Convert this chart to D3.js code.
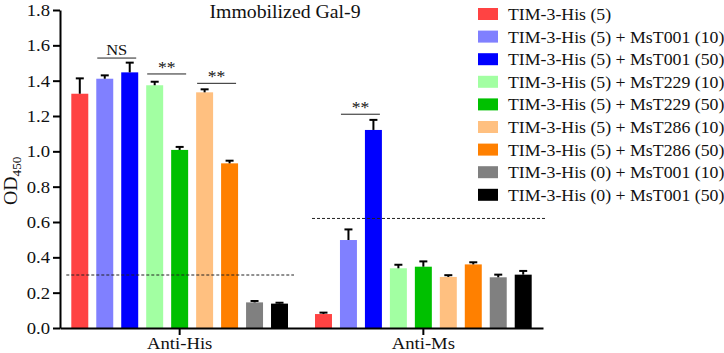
<!DOCTYPE html>
<html>
<head>
<meta charset="utf-8">
<script src="https://cdn.jsdelivr.net/npm/d3@7"></script>
<style>
  body { margin: 0; background: #fff; }
  text { font-family: "Liberation Serif", "Times New Roman", serif; fill: #111; }
</style>
</head>
<body>
<div id="chart"></div>
<script>
// Data
const groups = ["Anti-His", "Anti-Ms"];
const series = [
  "TIM-3-His (5)",
  "TIM-3-His (5) + MsT001 (10)",
  "TIM-3-His (5) + MsT001 (50)",
  "TIM-3-His (5) + MsT229 (10)",
  "TIM-3-His (5) + MsT229 (50)",
  "TIM-3-His (5) + MsT286 (10)",
  "TIM-3-His (5) + MsT286 (50)",
  "TIM-3-His (0) + MsT001 (10)",
  "TIM-3-His (0) + MsT001 (50)"
];
const colors = ["#ff4343", "#8080ff", "#0000ff", "#a2ffa2", "#00c000", "#ffc080", "#ff8000", "#808080", "#000000"];

const antiHisMean = [1.326, 1.411, 1.447, 1.374, 1.008, 1.334, 0.932, 0.145, 0.138];
const antiHisErr  = [0.087, 0.019, 0.055, 0.020, 0.017, 0.017, 0.015, 0.008, 0.005];
const antiMsMean  = [0.079, 0.498, 1.121, 0.338, 0.347, 0.289, 0.360, 0.287, 0.302];
const antiMsErr   = [0.008, 0.060, 0.057, 0.020, 0.030, 0.010, 0.012, 0.015, 0.021];

const cutoffs = [0.30, 0.62];          // dashed lines per group
const yTicks = [0, 0.2, 0.4, 0.6, 0.8, 1.0, 1.2, 1.4, 1.6, 1.8];

// significance brackets: group, first bar, last bar, label, height
const sigGroup = ["Anti-His", "Anti-His", "Anti-His", "Anti-Ms"];
const sigFrom  = [1, 3, 5, 1];
const sigTo    = [2, 4, 6, 2];
const sigLabel = ["NS", "**", "**", "**"];
const sigY     = [1.528, 1.438, 1.385, 1.21];

const title = "Immobilized Gal-9";

// Configuración
const W = 724, H = 353;
const stretch = 1.1; // the source text is a bit wide
const margin = { top: 10, left: 60, bottom: 25 };
const plotRight = 543;

const svg = d3.select("#chart").append("svg")
  .attr("width", W).attr("height", H);

const y = d3.scaleLinear().domain([0, 1.8]).range([H - margin.bottom, margin.top]);

const x0 = d3.scaleBand().domain(groups)
  .range([margin.left, plotRight])
  .paddingInner(0.078).paddingOuter(0.03);

const x1 = d3.scaleBand().domain(d3.range(series.length))
  .range([0, x0.bandwidth()])
  .paddingInner(0.32).paddingOuter(0.16);

const table = groups.map((g, gi) => ({
  group: g,
  values: (gi === 0 ? antiHisMean : antiMsMean).map((v, i) => ({
    i, v, e: (gi === 0 ? antiHisErr : antiMsErr)[i]
  }))
}));

// Barras
const gGroup = svg.selectAll(".grp").data(table).enter().append("g")
  .attr("transform", d => `translate(${x0(d.group)},0)`);

gGroup.selectAll("rect").data(d => d.values).enter().append("rect")
  .attr("x", d => x1(d.i))
  .attr("y", d => y(d.v))
  .attr("width", x1.bandwidth())
  .attr("height", d => y(0) - y(d.v))
  .attr("fill", d => colors[d.i]);

// error bars (upper only)
const eb = gGroup.selectAll(".err").data(d => d.values).enter().append("g")
  .attr("stroke", "#000").attr("stroke-width", 2);
eb.append("line")
  .attr("x1", d => x1(d.i) + x1.bandwidth() / 2)
  .attr("x2", d => x1(d.i) + x1.bandwidth() / 2)
  .attr("y1", d => y(d.v)).attr("y2", d => y(d.v + d.e));
eb.append("line")
  .attr("x1", d => x1(d.i) + x1.bandwidth() / 2 - 4)
  .attr("x2", d => x1(d.i) + x1.bandwidth() / 2 + 4)
  .attr("y1", d => y(d.v + d.e)).attr("y2", d => y(d.v + d.e));

// cutoff lines
const cutExt = [[-1, 2], [1, 11]];
groups.forEach((g, gi) => {
  svg.append("line")
    .attr("x1", x0(g) + cutExt[gi][0])
    .attr("x2", x0(g) + x0.bandwidth() + cutExt[gi][1])
    .attr("y1", y(cutoffs[gi])).attr("y2", y(cutoffs[gi]))
    .attr("stroke", "#222").attr("stroke-width", 1)
    .attr("stroke-dasharray", "3,2");
});

// brackets
sigLabel.forEach((lab, k) => {
  const gx = x0(sigGroup[k]);
  const xa = gx + x1(sigFrom[k]) + 1;
  const xb = gx + x1(sigTo[k]) + x1.bandwidth() - 2;
  const yy = y(sigY[k]);
  svg.append("line").attr("x1", xa).attr("x2", xb).attr("y1", yy).attr("y2", yy)
    .attr("stroke", "#222").attr("stroke-width", 1);
  svg.append("text")
    .attr("transform", `translate(${(xa + xb) / 2},${yy - (lab === "NS" ? 3 : 1)}) scale(${stretch},1)`)
    .attr("text-anchor", "middle")
    .attr("font-size", lab === "NS" ? 15 : 16)
    .text(lab);
});

// Ejes
const yAxis = svg.append("g")
  .attr("transform", `translate(${margin.left},0)`)
  .call(d3.axisLeft(y).tickValues(yTicks).tickFormat(d3.format(".1f"))
    .tickSize(7).tickSizeOuter(0).tickPadding(2));

const xAxis = svg.append("g")
  .attr("transform", `translate(0,${y(0)})`)
  .call(d3.axisBottom(x0).tickSize(7).tickSizeOuter(0).tickPadding(2));

[yAxis, xAxis].forEach(ax => {
  ax.select(".domain").attr("stroke", "#000").attr("stroke-width", 2);
  ax.selectAll(".tick line").attr("stroke", "#000").attr("stroke-width", 2);
  ax.selectAll(".tick text")
    .attr("font-family", "Liberation Serif, Times New Roman, serif")
    .attr("font-size", 17).attr("fill", "#111");
});
yAxis.selectAll(".tick text").attr("transform", `scale(${stretch},1)`);
xAxis.selectAll(".tick text").attr("transform", `scale(${stretch},1)`);

// y label OD450
const yl = svg.append("text")
  .attr("transform", `translate(17,${(y(0) + y(1.8)) / 2 + 36}) rotate(-90) scale(${stretch},1)`)
  .attr("font-size", 18);
yl.append("tspan").text("OD");
yl.append("tspan").attr("font-size", 12).attr("dy", 4).text("450");

// title
svg.append("text")
  .attr("transform", `translate(285,18) scale(${stretch},1)`)
  .attr("text-anchor", "middle")
  .attr("font-size", 18)
  .text(title);

// Leyenda
const legend = svg.append("g").selectAll("g").data(series).enter().append("g")
  .attr("transform", (d, i) => `translate(478,${8 + i * 22.6})`);
legend.append("rect")
  .attr("width", 20).attr("height", 12)
  .attr("fill", (d, i) => colors[i]);
legend.append("text")
  .attr("transform", `translate(30,12) scale(${stretch * 0.98},1)`)
  .attr("font-size", 16.5)
  .text(d => d);
</script>
</body>
</html>
